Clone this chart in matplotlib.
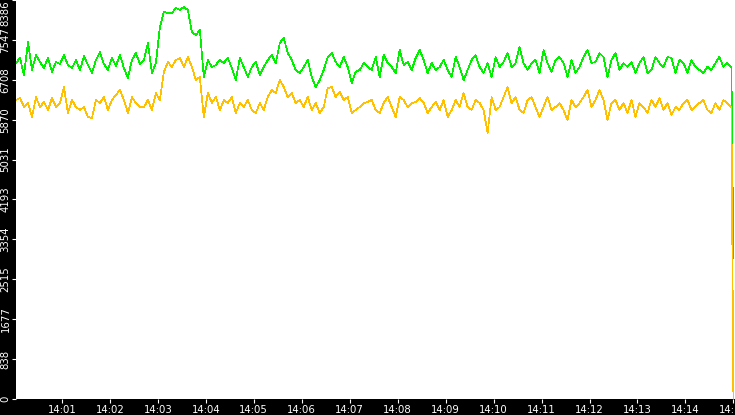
import matplotlib
matplotlib.use("Agg")
import matplotlib.pyplot as plt
from matplotlib.ticker import FuncFormatter
import numpy as np

# seconds after 14:00:00, one sample every 5 s, last sample at 14:15:00
t_start = 2.5
t_step = 5.0
t_last = 900.0

green = [
    7062, 7167, 6810, 7503, 6915, 7230, 7083, 6957, 7167, 6873, 7083, 7041,
    7230, 7020, 6957, 7125, 6915, 7209, 7020, 6852, 7125, 7293, 7041, 6915,
    7167, 6999, 7230, 6957, 6747, 7125, 7272, 7041,
    7125, 7482, 6852, 7062, 7819, 8134, 8113, 8113, 8218, 8176, 8239, 8176,
    7713, 7650, 7755, 6768, 7125, 6978, 7020, 7125, 7062, 7167, 6957, 6704,
    7167, 6978, 6768, 6978, 7083, 6810, 6978, 7125, 7230, 7062, 7482, 7587,
    7272, 7125, 6915, 6852, 6978, 7125, 6768, 6557, 6704,
    6915, 7188, 7272, 7083, 6978, 7188, 6978, 6641, 6873, 6915, 7062, 6978,
    6915, 7188, 6768, 7230, 7062, 6978, 6852, 7335, 7020, 7083, 6915, 7167,
    7335, 7125, 6852, 7062, 6915, 6978, 7125, 6915, 6768, 7188, 6978, 6704,
    6915, 7125, 7230, 6978, 6852, 7062, 6768, 7188, 6978, 7083, 7272, 6978,
    7062, 7398, 7062, 6915, 7062, 7125, 6852, 7335, 7062, 6873, 7125, 7188,
    7062, 6768, 7125, 6852, 6978, 7188, 7335, 7062, 7083, 7272, 7188, 6768,
    7125, 7272, 6915, 7062, 6978, 7083, 6852, 7062, 7188, 6852, 6915, 7188,
    7062, 6978, 7188, 7167, 6852, 7125, 7062, 6852, 7125, 6978, 6915, 6852,
    6978, 6915, 7062, 7188, 6978, 7062, 6978,
]
green_last = 2950

yellow = [
    6284, 6326, 6137, 6221, 5927, 6347, 6137, 6242, 6074, 6326, 6137, 6221,
    6557, 6011, 6284, 6137, 6074, 6137, 5927, 5906, 6284, 6221, 6347, 6074,
    6284, 6389, 6494, 6284, 6011, 6347, 6221, 6137,
    6137, 6284, 6074, 6431, 6284, 6873, 7083, 6978, 7125, 7167, 6978, 7188,
    6978, 6704, 6768, 5927, 6431, 6221, 6347, 6074, 6284, 6221, 6347, 6011,
    6221, 6137, 6284, 6074, 6011, 6221, 6074, 6347, 6494, 6431, 6704, 6557,
    6347, 6431, 6221, 6284, 6137, 6347, 6074, 6221, 6011,
    6137, 6536, 6557, 6347, 6452, 6284, 6347, 6011, 6074, 6137, 6221, 6242,
    6284, 6074, 6011, 6221, 6347, 6137, 5927, 6347, 6284, 6137, 6221, 6242,
    6326, 6221, 6011, 6137, 6242, 6074, 6284, 5927, 6074, 6284, 6137, 6431,
    6137, 6074, 6284, 6221, 6074, 5591, 6347, 6074, 6137, 6347, 6557, 6221,
    6347, 6074, 6011, 6284, 6347, 6137, 5927, 6137, 6347, 6074, 6137, 6221,
    6074, 5864, 6284, 6137, 6221, 6347, 6494, 6137, 6284, 6494, 6284, 5864,
    6221, 6284, 6074, 6221, 6011, 6284, 5927, 6221, 6137, 6011, 6284, 6137,
    6326, 6074, 6221, 5969, 6137, 6074, 6221, 6284, 6074, 6137, 6221, 6284,
    6074, 6011, 6221, 6074, 6284, 6221, 6137,
]
yellow_last = 0

y_max = 8386
minute_ticks = np.arange(60, 901, 60)

n = len(green)
t = np.append(t_start + t_step * np.arange(n), t_last)
g = np.append(green, green_last)
y = np.append(yellow, yellow_last)

fig = plt.figure(figsize=(7.35, 4.15), dpi=100, facecolor="black")
ax = fig.add_axes([16 / 735, 16 / 415, 719 / 735, 399 / 415])
ax.set_facecolor("white")

ax.plot(t, g, color="#00f000", linewidth=0.5, antialiased=False)
ax.plot(t, y, color="#ffc000", linewidth=0.5, antialiased=False)

ax.set_xlim(t_start, 902)
ax.set_ylim(0, y_max)

for s in ax.spines.values():
    s.set_visible(False)

# y ticks: eleven even steps, labels truncated to integers
yt = np.linspace(0, y_max, 11)
ax.set_yticks(yt)
ax.set_yticklabels([str(int(v)) for v in yt])
ax.set_xticks(minute_ticks)
ax.xaxis.set_major_formatter(FuncFormatter(lambda v, p: f"14:{int(v // 60):02d}"))

ax.tick_params(axis="both", colors="white", direction="out", length=3,
               width=0.8, labelsize=7.3)
ax.tick_params(axis="y", pad=1)
ax.tick_params(axis="x", pad=1.5)
for lbl in ax.get_yticklabels():
    lbl.set_rotation(90)
    lbl.set_va("center")
ax.get_yticklabels()[-1].set_va("top")

fig.savefig("out.png", dpi=100, facecolor="black")
